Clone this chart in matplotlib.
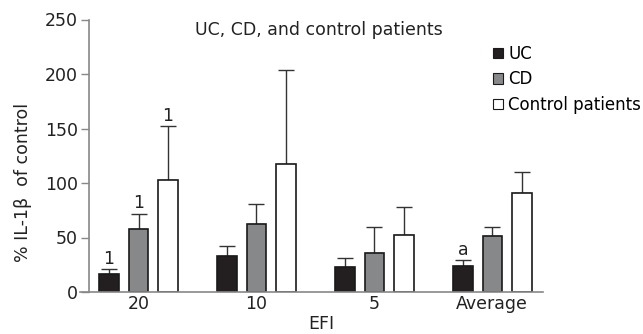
import matplotlib
matplotlib.use("Agg")
import matplotlib.pyplot as plt
import numpy as np

categories = ["20", "10", "5", "Average"]
series_names = ["UC", "CD", "Control patients"]
uc_values = [16.5, 33, 23, 24]
uc_err_top = [21, 42.5, 31.5, 29]
cd_values = [57.5, 62, 36, 51.5]
cd_err_top = [72, 81, 59.5, 59.5]
ctrl_values = [102.5, 117, 52, 90.5]
ctrl_err_top = [152, 204, 78, 110]
uc_labels = ["1", "", "", "a"]
cd_labels = ["1", "", "", ""]
ctrl_labels = ["1", "", "", ""]
yticks = [0, 50, 100, 150, 200, 250]

plt.rcParams['font.family'] = ['DejaVu Sans']
FS = 12.5
fig = plt.figure(figsize=(6.43, 3.34), dpi=100)
ax = fig.add_axes([89/643, 1 - 292/334, (543-89)/643, (292-19.5)/334])

x = np.arange(len(categories))
w = 0.165
off = 0.25
colors = ["#231f20", "#87888a", "#ffffff"]
vals = [uc_values, cd_values, ctrl_values]
errs = [uc_err_top, cd_err_top, ctrl_err_top]
labs = [uc_labels, cd_labels, ctrl_labels]
for i in range(3):
    pos = x + (i - 1) * off
    v = np.array(vals[i])
    e = np.array(errs[i]) - v
    ax.bar(pos, v, width=w, color=colors[i], edgecolor="#1a1a1a", linewidth=1.2,
           label=series_names[i], zorder=3)
    ax.errorbar(pos, v, yerr=[np.zeros_like(e), e], fmt="none", ecolor="#333333",
                elinewidth=1.0, capsize=5.5, capthick=1.0, zorder=2)
    for p, top, t in zip(pos, errs[i], labs[i]):
        if t:
            ax.text(p, top + 1.0, t, ha="center", va="bottom", fontsize=FS, color="#222222")

ax.set_xlim(-0.42, 3.43)
ax.set_ylim(0, 250)
ax.set_yticks(yticks)
ax.set_xticks(x)
ax.set_xticklabels(categories)
ax.tick_params(axis="x", length=0, labelsize=FS, pad=2, colors="#222222")
ax.tick_params(axis="y", length=6, width=1, labelsize=FS, pad=2, color="#888888", labelcolor="#222222")
for s in ["top", "right"]:
    ax.spines[s].set_visible(False)
for s in ["left", "bottom"]:
    ax.spines[s].set_color("#888888")
    ax.spines[s].set_linewidth(1.2)
ax.spines["bottom"].set_bounds(-0.50, 3.43)
ax.spines["bottom"].set_zorder(4)

ax.set_ylabel("% IL-1\u03b2  of control", fontsize=FS, color="#222222")
ax.yaxis.set_label_coords((32 - 89) / 454, (292 - 182) / 272.5)
fig.text(321/643, 1 - 324/334, "EFI", ha="center", va="center", fontsize=FS, color="#222222")
fig.text(319/643, 1 - 30/334, "UC, CD, and control patients", ha="center", va="center",
         fontsize=FS, color="#222222")

leg = ax.legend(loc="upper left", bbox_to_anchor=((493-89)/(543-89), (292-45)/(292-19.5)),
                frameon=False, fontsize=12, handlelength=0.6, handleheight=0.6,
                handletextpad=0.3, labelspacing=0.45, borderaxespad=0, borderpad=0)
for h in leg.legend_handles:
    h.set_linewidth(0.8)

fig.savefig("out.png", dpi=100)
